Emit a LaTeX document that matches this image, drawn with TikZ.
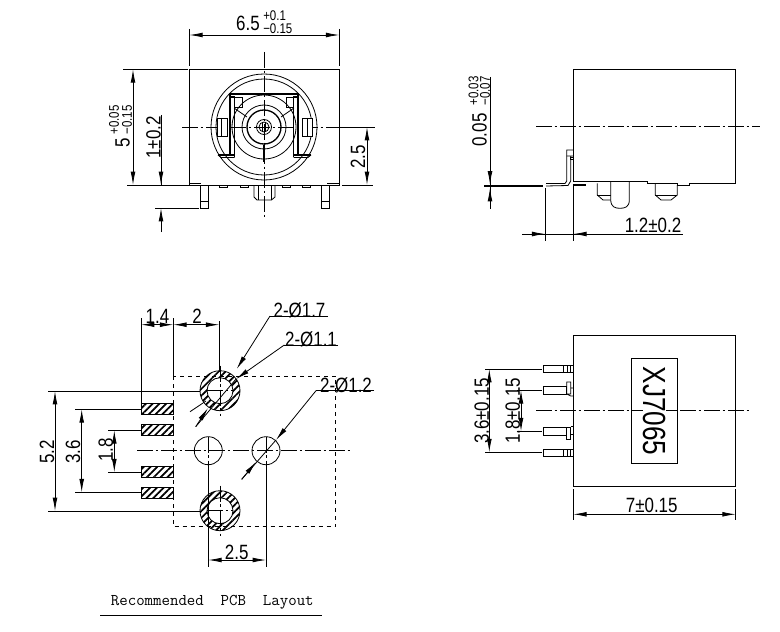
\documentclass[tikz,border=0pt]{standalone}
\usepackage{fontspec}
\setmainfont[FakeStretch=0.82]{Liberation Sans}
\newfontfamily\layoutfont{Latin Modern Mono}
\usetikzlibrary{arrows.meta,patterns.meta}
\tikzset{
  part/.style={line width=0.6pt},
  heavy/.style={line width=1pt},
  axis/.style={line width=0.6pt,dash pattern=on 12pt off 2pt on 2pt off 2pt},
  dimline/.style={line width=0.6pt,{Latex[length=10pt,width=3.6pt]}-{Latex[length=10pt,width=3.6pt]}},
  leader/.style={line width=0.6pt,-{Latex[length=10pt,width=3.6pt]}},
  hatched/.style={line width=0.6pt,even odd rule,pattern={Lines[angle=45,distance=3.6pt,line width=1.3pt]}},
  val/.style={inner sep=0pt,font=\fontsize{15.5}{15.5}\selectfont},
  tol/.style={inner sep=0pt,font=\fontsize{10.5}{10.5}\selectfont},
}
\begin{document}
\begin{tikzpicture}[x=0.75pt,y=-0.75pt]
\useasboundingbox (0,0) rectangle (780,631);

% front view
\draw[part] (189.3,69.3) rectangle (339.3,185);
\draw[part] (189.3,183.5) -- (201,183.5) (327,183.5) -- (339.3,183.5);
\draw[axis] (264,52) -- (264,218);
\draw[axis] (182,127) -- (375,127);
\foreach \r in {53,48,32,22,7.5,5}
  \draw[part] (264,127) circle[radius=\r];
\draw[heavy] (264,127) circle[radius=17];
\draw[part] (262.5,122) -- (262.5,132) (265.5,122) -- (265.5,132);
\draw[heavy] (264,145) -- (264,162);
\draw[part,fill=white] (217,118) rectangle (227,136) (221,118) -- (221,136);
\draw[part,fill=white] (302,118) rectangle (312,136) (307.5,118) -- (307.5,136);
\draw[heavy] (234.5,157) -- (234.5,97) -- (230,97) -- (230,94) -- (298,94) -- (298,97) -- (293.5,97) -- (293.5,157);
\draw[heavy] (230,94) -- (230,154) (298,94) -- (298,154);
\draw[part] (234,108) -- (247,117) (294,108) -- (281,117);
\draw[part] (234.5,97) -- (242,97) -- (242,107) -- (234.5,107);
\draw[part] (293.5,97) -- (286,97) -- (286,107) -- (293.5,107);
\draw[heavy] (218,155) -- (234.5,155) (293.5,155) -- (311,155);
\draw[part] (218,155) -- (221,157.5) -- (234.5,157.5) (311,155) -- (308,157.5) -- (293.5,157.5);
\foreach \x in {200,321}{
  \draw[part] (\x,185) rectangle (\x+8,208);
  \draw[part] (\x,201.7) -- (\x+8,201.7);
}
\foreach \x in {219,240,282,302}
  \draw[part] (\x,185) rectangle (\x+8,187.5);
\draw[part] (254,185) -- (254,197) -- (257,200) -- (271.5,200) -- (275,197) -- (275,185);
\draw[part] (258,185) -- (258,200) (271.5,185) -- (271.5,200);

\draw[part] (189.3,29) -- (189.3,66) (339.3,29) -- (339.3,66);
\draw[dimline] (189.3,35) -- (339.3,35);
\node[val] (widthval) at (248,23) {6.5};
\node[tol,anchor=west] (widthup) at (263,16) {+0.1};
\node[tol,anchor=west] (widthlo) at (263,28.5) {\textminus 0.15};

\draw[part] (123,69.3) -- (188,69.3) (127,185) -- (189,185);
\draw[dimline] (133,69.3) -- (133,185);
\node[val,rotate=90] (heightval) at (122.5,143) {5};
\node[tol,rotate=90] (heightup) at (114,120) {+0.05};
\node[tol,rotate=90] (heightlo) at (127,120) {\textminus 0.15};

\draw[part] (155,208) -- (199,208);
\draw[part] (161,115) -- (161,185);
\draw[leader] (161,150) -- (161,185);
\draw[leader] (161,232) -- (161,208);
\node[val,rotate=90] (pinval) at (153.5,137.5) {1±0.2};

\draw[part] (340,127) -- (375,127) (342,185) -- (373,185);
\draw[dimline] (367,127) -- (367,185);
\node[val,rotate=90] (axisval) at (358,157) {2.5};

% side view
\draw[part] (573.3,181) -- (573.3,69.3) -- (735.7,69.3) -- (735.7,183.3) -- (689.3,183.3) -- (689.3,185) -- (677.3,185) -- (677.3,183.3) -- (647.7,183.3) -- (647.7,181) -- cycle;
\draw[axis] (536,126.3) -- (760,126.3);
\draw[line width=1.4pt] (484,186) -- (543,186) (573.3,185) -- (586,185);
\draw[part] (546,183.5) -- (565,183.5) -- (566.7,181) -- (566.7,150) -- (573.3,150);
\draw[part] (566.7,156) -- (573.3,156) (570.7,156) -- (570.7,181) -- (568,185.5) -- (546,186);
\draw[part] (570.7,157) rectangle (573.3,159.5);
\draw[part] (597.3,183.3) -- (597.3,195) -- (603,200) -- (610.7,200);
\draw[part] (597.3,195) -- (610.7,195);
\draw[part] (610.7,181) -- (610.7,200) .. controls (611,207) and (615,208.3) .. (620,208.3) .. controls (625,208.3) and (629.3,207) .. (629.3,200) -- (629.3,181);
\draw[part] (655.3,183.3) -- (655.3,195) -- (661,200) -- (671,200) -- (677.3,195) -- (677.3,185);
\draw[part] (655.3,195) -- (677.3,195);

\draw[part] (490,77) -- (490,209);
\draw[leader] (490,170) -- (490,184.5);
\draw[leader] (490,205) -- (490,188);
\node[val,rotate=90] (gapval) at (479.5,130) {0.05};
\node[tol,rotate=90] (gapup) at (473.5,91) {+0.03};
\node[tol,rotate=90] (gaplo) at (485,91) {\textminus 0.07};

\draw[part] (545.3,188) -- (545.3,240.7) (573.3,185) -- (573.3,240.7);
\draw[part] (522,234) -- (683,234);
\draw[leader] (528,234) -- (545.3,234);
\draw[leader] (590,234) -- (573.3,234);
\node[val] (offsetval) at (653,225) {1.2±0.2};

% pcb layout
\draw[part,dashed] (173.3,376) rectangle (335.7,526.7);
\foreach \y in {403.3,424.3,466,487.3}
  \draw[hatched] (141,\y) rectangle (173.3,\y+11.5);
\foreach \y in {390.7,510.7}{
  \draw[hatched] (220,\y) circle[radius=20] circle[radius=13];
  \draw[axis] (220,\y-25) -- (220,\y+25);
  \draw[axis] (207,\y) -- (233,\y);
}
\draw[axis] (137,450.7) -- (350,450.7);
\draw[part] (208.3,450.7) circle[radius=14] (266,450.7) circle[radius=14];
\draw[axis] (208.3,436.7) -- (208.3,464.7) (266,436.7) -- (266,464.7);

\draw[part] (141,318) -- (141,403.3) (173.3,318) -- (173.3,376) (219.3,321) -- (219.3,372);
\draw[dimline] (141,324.7) -- (173.3,324.7);
\draw[dimline] (173.3,324.7) -- (219.3,324.7);
\node[val] (padlen) at (157.5,316.5) {1.4};
\node[val] (padgap) at (197,316) {2};

\draw[part] (328,316) -- (270,316);
\draw[leader] (270,316) -- (236.7,369);
\draw[part] (190,411.7) -- (206,401);
\node[val] (bigtext) at (299.5,310) {2-Ø1.7};
\draw[part] (338,345) -- (284.3,345);
\draw[leader] (284.3,345) -- (236,379);
\draw[part] (236,379) -- (195.7,426.7);
\draw[leader] (195.7,426.7) -- (208,408);
\node[val] (smalltext) at (311,339) {2-Ø1.1};
\draw[part] (374,390.7) -- (316,390.7);
\draw[leader] (316,390.7) -- (276,440);
\draw[part] (276,440) -- (241.7,479.3);
\draw[leader] (241.7,479.3) -- (256,462);
\node[val] (holetext) at (346,385) {2-Ø1.2};

\draw[part] (48,391) -- (200,391) (48,511) -- (200,511);
\draw[dimline] (55,391) -- (55,511);
\node[val,rotate=90] (outerval) at (47,452) {5.2};
\draw[part] (75,409.3) -- (141,409.3) (75,492.3) -- (141,492.3);
\draw[dimline] (81.7,409.3) -- (81.7,492.3);
\node[val,rotate=90] (midval) at (73,451.7) {3.6};
\draw[part] (108,430.3) -- (141,430.3) (108,472.3) -- (141,472.3);
\draw[dimline] (114.3,430.3) -- (114.3,472.3);
\node[val,rotate=90] (innerval) at (105.7,450) {1.8};

\draw[part] (208.3,464.7) -- (208.3,566.7) (266,464.7) -- (266,566.7);
\draw[dimline] (208.3,560) -- (266,560);
\node[val] (pitchval) at (236.7,552.7) {2.5};

\node[inner sep=0pt,font=\layoutfont\fontsize{12.3}{12.3}\selectfont] (layouttitle) at (212.3,602.7) {Recommended~~PCB~~Layout};
\draw[part] (100,615) -- (321.7,615);

% bottom view
\draw[part] (573.3,335) rectangle (735.7,486);
\draw[axis] (536,410.3) -- (750,410.3);
\draw[part,fill=white] (631.7,358.3) rectangle (677.7,463.3);
\draw[axis] (631.7,410.3) -- (643,410.3) (666,410.3) -- (677.7,410.3);
\node[inner sep=0pt,rotate=-90,font=\fontsize{24}{24}\selectfont] (partno) at (654.5,411) {XJ7065};
\foreach \y in {365,449}{
  \draw[part] (543.3,\y) rectangle (573.3,\y+7.7);
  \draw[part] (563.3,\y) -- (563.3,\y+7.7) (567.3,\y) -- (567.3,\y+7.7) (570.7,\y) -- (570.7,\y+7.7);
}
\draw[part] (543.3,386.7) rectangle (566.7,394);
\draw[part] (566.7,382) rectangle (570.7,394) (570.7,388) -- (573.3,388) (570.7,396) -- (573.3,396) (566.7,394) -- (570.7,396);
\draw[part] (543.3,427.7) rectangle (566.7,435.3);
\draw[part] (566.7,427.7) rectangle (570.7,439.3) (570.7,426) -- (573.3,426) (570.7,434) -- (573.3,434);

\draw[part] (485,369) -- (541.7,369) (485,452.3) -- (541.7,452.3);
\draw[dimline] (489.3,369) -- (489.3,452.3);
\node[val,rotate=90] (outerpin) at (481.7,411) {3.6±0.15};
\draw[part] (516.7,390.3) -- (541.7,390.3) (516.7,431.3) -- (541.7,431.3);
\draw[dimline] (521,390.3) -- (521,431.3);
\node[val,rotate=90] (innerpin) at (512.7,411) {1.8±0.15};

\draw[part] (573.3,489) -- (573.3,520) (735.7,489) -- (735.7,520);
\draw[dimline] (573.3,514.3) -- (735.7,514.3);
\node[val] (depthval) at (651.7,505) {7±0.15};

\end{tikzpicture}
\end{document}
